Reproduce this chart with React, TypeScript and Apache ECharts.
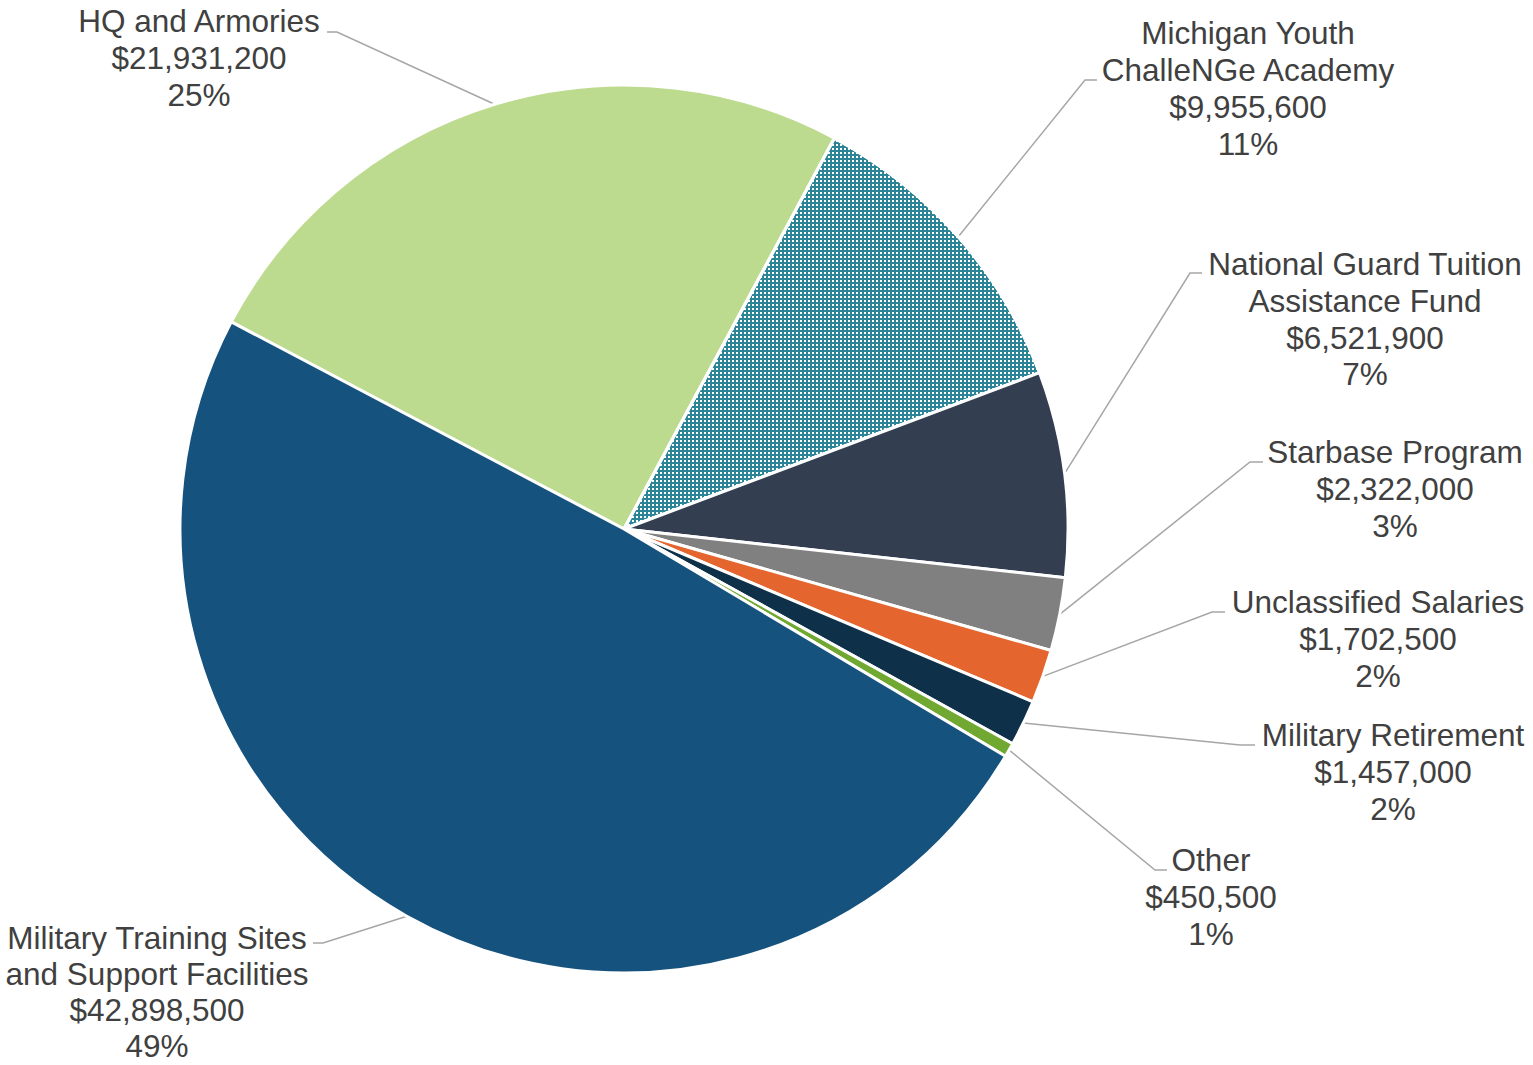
import React, { useEffect, useRef } from "react";
import * as echarts from "echarts";

const categories = [
  "HQ and Armories",
  "Michigan Youth\nChalleNGe Academy",
  "National Guard Tuition\nAssistance Fund",
  "Starbase Program",
  "Unclassified Salaries",
  "Military Retirement",
  "Other",
  "Military Training Sites\nand Support Facilities",
];
const values = [21931200, 9955600, 6521900, 2322000, 1702500, 1457000, 450500, 42898500];
const colors = ["#BDDB8F", "#2B8597", "#333F50", "#808080", "#E5652E", "#0E3048", "#70A832", "#16527E"];
const patterned = [false, true, false, false, false, false, false, false];

// label placement: [centerX, topY, lineEndX, lineEndY, elbowX, lineHeight]
const labelPlacement = [
  [199, 2, 327, 32, 337, 37],
  [1248, 14, 1097, 80, 1085, 37],
  [1365, 246, 1202, 273, 1190, 36.7],
  [1395, 434, 1263, 462, 1250, 36.7],
  [1378, 584, 1225, 612, 1212, 36.7],
  [1393, 717, 1255, 745, 1240, 36.7],
  [1211, 841, 1167, 870, 1155, 37],
  [157, 920, 313, 943, 323, 36],
];

const CENTER = [624, 529];
const RADIUS = 444;
const START_ANGLE = 152.2;

export default function App() {
  const ref = useRef<HTMLDivElement>(null);
  useEffect(() => {
    if (!ref.current) return;
    const chart = echarts.init(ref.current, undefined, { renderer: "svg" });
    const total = values.reduce((a, b) => a + b, 0);
    const fmt = (v: number) => "$" + v.toLocaleString("en-US");
    const mids: number[] = [];
    let acc = (-START_ANGLE * Math.PI) / 180;
    values.forEach((v) => {
      const a = (v / total) * Math.PI * 2;
      mids.push(acc + a / 2);
      acc += a;
    });
    const data = values.map((v, i) => ({
      name: categories[i],
      value: v,
      label: { lineHeight: labelPlacement[i][5] },
      itemStyle: patterned[i]
        ? {
            color: colors[i],
            decal: {
              symbol: "rect",
              symbolSize: 1,
              color: "#ffffff",
              dashArrayX: [2, 2],
              dashArrayY: [2, 2],
              rotation: 0,
            },
          }
        : { color: colors[i] },
    }));
    chart.setOption({
      animation: false,
      backgroundColor: "#ffffff",
      series: [
        {
          type: "pie",
          center: CENTER,
          radius: RADIUS,
          startAngle: START_ANGLE,
          clockwise: true,
          data,
          itemStyle: { borderColor: "#ffffff", borderWidth: 3 },
          label: {
            show: true,
            position: "outside",
            formatter: (p: any) =>
              `${p.name}\n${fmt(p.value)}\n${Math.round((p.value / total) * 100)}%`,
            fontFamily: "Liberation Sans, Arial, sans-serif",
            fontSize: 31.5,
            lineHeight: 37,
            color: "#404040",
            align: "center",
          },
          labelLine: {
            show: true,
            lineStyle: { color: "#A6A6A6", width: 1.5 },
          },
          labelLayout: (params: any) => {
            const i = params.dataIndex;
            const p = labelPlacement[i];
            let start: number[];
            if (params.labelLinePoints && params.labelLinePoints[0]) {
              start = params.labelLinePoints[0];
            } else {
              start = [
                CENTER[0] + RADIUS * Math.cos(mids[i]),
                CENTER[1] + RADIUS * Math.sin(mids[i]),
              ];
            }
            return {
              x: p[0],
              y: p[1],
              align: "center",
              verticalAlign: "top",
              labelLinePoints: [start, [p[4], p[3]], [p[2], p[3]]],
            };
          },
        },
      ],
    });
    return () => chart.dispose();
  }, []);
  return (
    <div
      ref={ref}
      style={{ position: "fixed", left: 0, top: 0, width: 1533, height: 1065, background: "#fff" }}
    />
  );
}
